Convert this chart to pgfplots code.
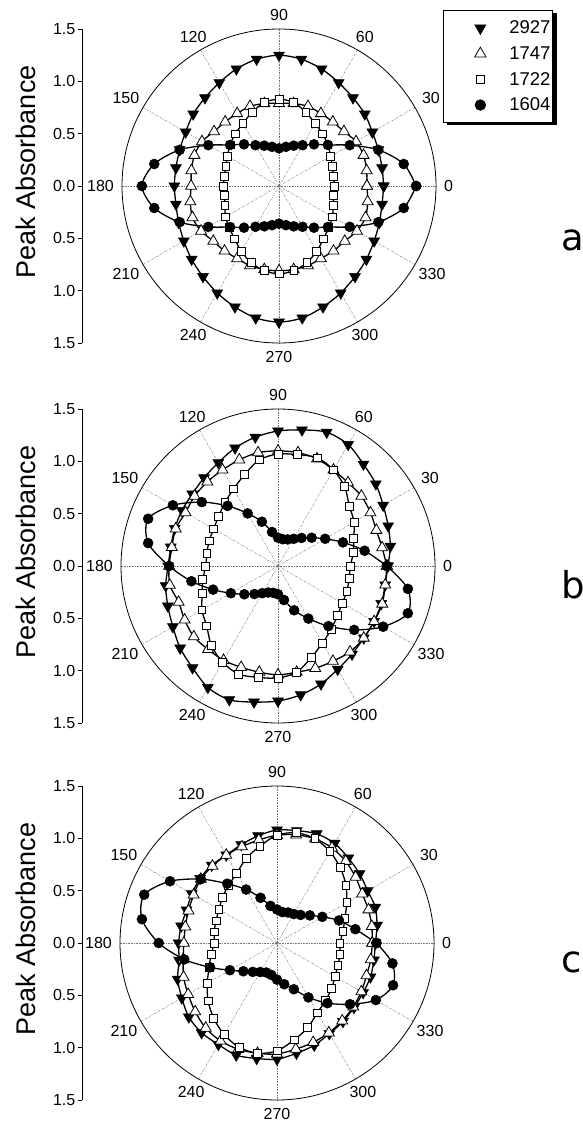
\documentclass[border=0pt]{standalone}
\usepackage{pgfplots}
\usepackage{pgfplotstable}
\pgfplotsset{compat=1.18}
\usepackage{fontspec}
\setmainfont{Liberation Sans}
\newfontfamily\lblfont{DejaVu Sans}

\pgfplotstableread{
ang s2927 s1747 s1722 s1604
0   1.00 0.84 0.53 1.31
10  1.00 0.85 0.53 1.21
20  1.01 0.86 0.54 1.01
30  1.03 0.85 0.57 0.78
40  1.07 0.81 0.61 0.61
50  1.10 0.80 0.65 0.52
60  1.14 0.80 0.69 0.45
70  1.19 0.81 0.75 0.41
80  1.23 0.80 0.81 0.38
90  1.25 0.79 0.83 0.36
100 1.23 0.80 0.81 0.38
110 1.19 0.81 0.75 0.41
120 1.14 0.80 0.69 0.45
130 1.10 0.80 0.65 0.52
140 1.07 0.81 0.61 0.61
150 1.03 0.85 0.57 0.78
160 1.01 0.86 0.54 1.01
170 1.00 0.85 0.53 1.21
180 1.00 0.84 0.53 1.31
190 1.00 0.86 0.53 1.21
200 1.02 0.88 0.55 1.01
210 1.05 0.86 0.59 0.78
220 1.09 0.82 0.62 0.61
230 1.13 0.81 0.66 0.52
240 1.18 0.80 0.72 0.45
250 1.23 0.81 0.78 0.41
260 1.28 0.81 0.82 0.38
270 1.30 0.81 0.84 0.36
280 1.28 0.81 0.82 0.38
290 1.23 0.81 0.78 0.41
300 1.18 0.80 0.72 0.45
310 1.13 0.81 0.66 0.52
320 1.09 0.82 0.62 0.61
330 1.05 0.86 0.59 0.78
340 1.02 0.88 0.55 1.01
350 1.00 0.86 0.53 1.21
360 1.00 0.84 0.53 1.31
}\tabA

\pgfplotstableread{
ang s2927 s1747 s1722 s1604
0   1.05 1.04 0.69 1.04
10  1.09 1.01 0.73 0.84
20  1.12 1.00 0.77 0.66
30  1.16 1.02 0.84 0.52
40  1.22 1.04 0.89 0.42
50  1.27 1.04 0.99 0.35
60  1.34 1.06 1.06 0.30
70  1.36 1.09 1.10 0.27
80  1.32 1.10 1.08 0.26
90  1.29 1.10 1.07 0.27
100 1.25 1.10 1.03 0.33
110 1.20 1.08 0.93 0.45
120 1.14 1.06 0.85 0.58
130 1.10 1.05 0.79 0.75
140 1.07 1.04 0.74 0.95
150 1.06 1.02 0.71 1.16
160 1.05 1.04 0.70 1.32
170 1.04 1.03 0.69 1.26
180 1.05 1.04 0.69 1.04
190 1.09 1.05 0.73 0.84
200 1.12 1.01 0.77 0.66
210 1.16 1.03 0.84 0.52
220 1.22 1.05 0.89 0.42
230 1.27 1.04 0.99 0.35
240 1.34 1.04 1.06 0.30
250 1.36 1.03 1.10 0.27
260 1.32 1.03 1.08 0.26
270 1.29 1.04 1.07 0.27
280 1.25 1.03 1.03 0.33
290 1.20 1.04 0.93 0.45
300 1.14 1.05 0.85 0.58
310 1.10 1.07 0.79 0.75
320 1.07 1.07 0.74 0.95
330 1.06 1.06 0.71 1.16
340 1.05 1.06 0.70 1.32
350 1.04 1.04 0.69 1.26
360 1.05 1.04 0.69 1.04
}\tabB

\pgfplotstableread{
ang s2927 s1747 s1722 s1604
0   0.94 0.91 0.60 0.95
10  0.97 0.92 0.64 0.76
20  1.00 0.93 0.69 0.63
30  1.00 0.94 0.77 0.50
40  1.03 0.98 0.86 0.41
50  1.06 1.02 0.94 0.35
60  1.10 1.05 1.01 0.32
70  1.11 1.06 1.06 0.31
80  1.09 1.05 1.07 0.30
90  1.08 1.03 1.03 0.32
100 1.04 1.00 0.94 0.36
110 1.00 0.98 0.86 0.46
120 0.97 0.97 0.77 0.59
130 0.97 0.96 0.72 0.74
140 0.96 0.95 0.68 0.95
150 0.94 0.92 0.64 1.18
160 0.92 0.90 0.62 1.35
170 0.93 0.89 0.61 1.31
180 0.94 0.89 0.60 1.13
190 0.95 0.91 0.64 0.90
200 1.01 0.95 0.69 0.68
210 1.05 0.98 0.77 0.52
220 1.10 1.02 0.86 0.42
230 1.12 1.06 0.94 0.36
240 1.12 1.08 1.01 0.32
250 1.14 1.08 1.06 0.30
260 1.12 1.07 1.07 0.31
270 1.11 1.06 1.03 0.35
280 1.07 1.03 0.94 0.40
290 1.04 1.01 0.86 0.47
300 1.00 0.99 0.77 0.60
310 0.98 0.97 0.72 0.75
320 0.96 0.95 0.68 0.91
330 0.95 0.93 0.64 1.09
340 0.95 0.91 0.62 1.18
350 0.94 0.91 0.61 1.12
360 0.94 0.91 0.60 0.95
}\tabC

\pgfplotsset{
  polarbox/.style={anchor=south west, scale only axis, width=314pt, height=314pt,
    xmin=-1.5, xmax=1.5, ymin=-1.5, ymax=1.5, hide axis, clip=false},
  scalebox/.style={anchor=south west, scale only axis, width=5pt, height=314pt,
    xmin=0, xmax=1, ymin=-1.5, ymax=1.5, axis x line=none, axis y line*=left,
    xtick=\empty, ytick={-1.5,-1,-0.5,0,0.5,1,1.5},
    yticklabels={1.5,1.0,0.5,0.0,0.5,1.0,1.5},
    tick align=outside, major tick length=4.5pt,
    tick style={black, line width=0.6pt},
    axis line style={line width=0.6pt, black},
    /pgf/number format/assume math mode=true,
    yticklabel style={font=\fontsize{16}{18}\selectfont, inner sep=2pt}},
  p2927/.style={smooth, black, line width=1.3pt, mark=triangle*, mark size=6.3pt,
    mark options={rotate=180, fill=black, solid, line width=0.5pt}},
  p1747/.style={smooth, black, line width=1.3pt, mark=triangle*, mark size=6.3pt,
    mark options={fill=white, draw=black, solid, line width=0.8pt}},
  p1722/.style={smooth, black, line width=1.3pt, mark=square*, mark size=3.9pt,
    mark options={fill=white, draw=black, solid, line width=0.8pt}},
  p1604/.style={smooth, black, line width=1.3pt, mark=*, mark size=5pt,
    mark options={fill=black, solid, line width=0.5pt}},
}

\begin{document}
\begin{tikzpicture}
\path[use as bounding box] (0,0) rectangle (583pt,-1129pt);

% polar grids
\foreach \cx/\cy in {279/186, 278/566, 277/943} {
  \foreach \a in {30,60,120,150,210,240,300,330}
    \draw[black!55, line width=0.45pt, dash pattern=on 2pt off 1.2pt on 0.6pt off 1.2pt]
      (\cx pt,-\cy pt) -- ++(\a:157pt);
  \foreach \a in {0,90,180,270}
    \draw[black!55, line width=0.55pt, dash pattern=on 0.7pt off 0.9pt]
      (\cx pt,-\cy pt) -- ++(\a:157pt);
  \draw[black, line width=0.8pt] (\cx pt,-\cy pt) circle[radius=157pt];
  \foreach \a in {0,30,...,330} {
    \pgfmathtruncatemacro\b{mod(\a+180,360)}
    \node[anchor=\b, inner sep=0pt, font=\fontsize{16}{18}\selectfont]
      at ([shift={(\a:165pt)}]\cx pt,-\cy pt) {\a};
  }
  \node[rotate=90, inner sep=0pt, font=\fontsize{27}{30}\selectfont]
    at (26pt,-\cy pt+14pt) {Peak Absorbance};
}

\node[inner sep=0pt, font=\lblfont\fontsize{37}{40}\selectfont] at (573pt,-240pt) {a};
\node[inner sep=0pt, font=\lblfont\fontsize{37}{40}\selectfont] at (573pt,-585pt) {b};
\node[inner sep=0pt, font=\lblfont\fontsize{37}{40}\selectfont] at (572pt,-962pt) {c};

% legend shadow
\fill[black] (447pt,-13pt) rectangle (557pt,-125pt);

% scale axes
\begin{axis}[scalebox, at={(82pt,-343pt)}]
\end{axis}
\begin{axis}[scalebox, at={(82pt,-723pt)}]
\end{axis}
\begin{axis}[scalebox, at={(82pt,-1100pt)}]
\end{axis}

% panel a
\begin{axis}[polarbox, at={(122pt,-343pt)},
  legend style={at={(axis description cs:1.0223,1.0605)}, anchor=north west,
    draw=black, line width=0.7pt, fill=white,
    font=\fontsize{18.5}{22}\selectfont, inner xsep=2pt, inner ysep=10.5pt,
    row sep=11.3pt, nodes={inner sep=0pt}},
  legend image code/.code={\path[draw=none, fill=none] (0pt,-4pt) rectangle (64pt,4pt);
    \draw[#1] plot coordinates {(35pt,0pt)};}]
\addlegendimage{only marks, mark=triangle*, mark size=6.5pt, mark options={rotate=180, fill=black, draw=black, line width=0.5pt}}
\addlegendentry{2927}
\addlegendimage{only marks, mark=triangle*, mark size=6.5pt, mark options={fill=white, draw=black, line width=0.8pt}}
\addlegendentry{1747}
\addlegendimage{only marks, mark=square*, mark size=4pt, mark options={fill=white, draw=black, line width=0.8pt}}
\addlegendentry{1722}
\addlegendimage{only marks, mark=*, mark size=5.3pt, mark options={fill=black, draw=black}}
\addlegendentry{1604}
\addplot[p2927, data cs=polar] table[x=ang, y=s2927] {\tabA};
\addplot[p1747, data cs=polar] table[x=ang, y=s1747] {\tabA};
\addplot[p1722, data cs=polar] table[x=ang, y=s1722] {\tabA};
\addplot[p1604, data cs=polar] table[x=ang, y=s1604] {\tabA};
\end{axis}

% panel b
\begin{axis}[polarbox, at={(121pt,-723pt)}]
\addplot[p2927, data cs=polar] table[x=ang, y=s2927] {\tabB};
\addplot[p1747, data cs=polar] table[x=ang, y=s1747] {\tabB};
\addplot[p1722, data cs=polar] table[x=ang, y=s1722] {\tabB};
\addplot[p1604, data cs=polar] table[x=ang, y=s1604] {\tabB};
\end{axis}

% panel c
\begin{axis}[polarbox, at={(120pt,-1100pt)}]
\addplot[p2927, data cs=polar] table[x=ang, y=s2927] {\tabC};
\addplot[p1747, data cs=polar] table[x=ang, y=s1747] {\tabC};
\addplot[p1722, data cs=polar] table[x=ang, y=s1722] {\tabC};
\addplot[p1604, data cs=polar] table[x=ang, y=s1604] {\tabC};
\end{axis}
\end{tikzpicture}
\end{document}
